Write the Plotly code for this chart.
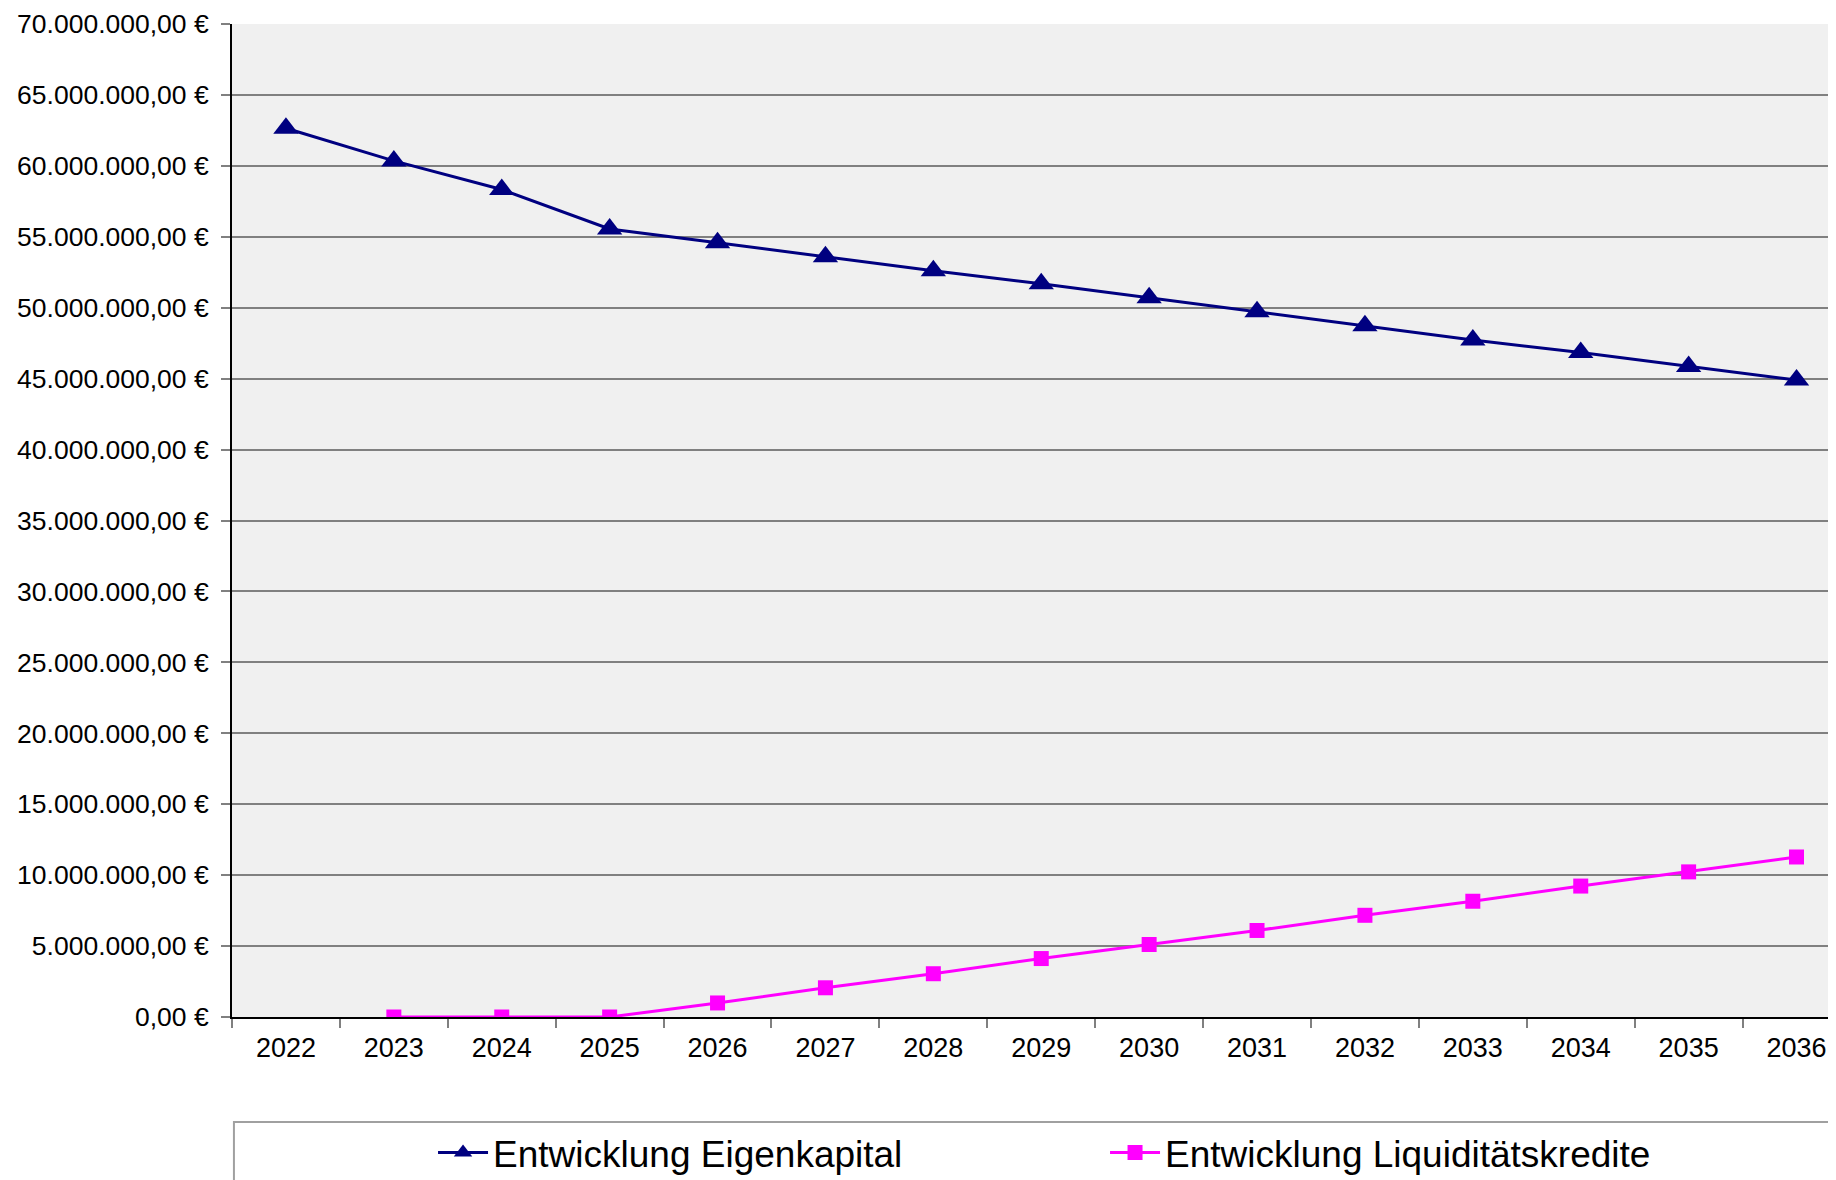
import plotly.graph_objects as go

years = ['2022', '2023', '2024', '2025', '2026', '2027', '2028', '2029',
         '2030', '2031', '2032', '2033', '2034', '2035', '2036']

eigenkapital = [62.65e6, 60.35e6, 58.33e6, 55.55e6, 54.58e6, 53.59e6, 52.60e6, 51.69e6,
                50.70e6, 49.71e6, 48.72e6, 47.73e6, 46.84e6, 45.86e6, 44.90e6]

liquiditaetskredite = [None, 0, 0, 0, 0.99e6, 2.06e6, 3.05e6, 4.12e6,
                       5.11e6, 6.10e6, 7.17e6, 8.16e6, 9.23e6, 10.23e6, 11.28e6]

y_ticks = [0, 5e6, 10e6, 15e6, 20e6, 25e6, 30e6, 35e6, 40e6, 45e6, 50e6, 55e6, 60e6, 65e6, 70e6]
y_labels = ['0,00 €', '5.000.000,00 €', '10.000.000,00 €', '15.000.000,00 €',
            '20.000.000,00 €', '25.000.000,00 €', '30.000.000,00 €', '35.000.000,00 €',
            '40.000.000,00 €', '45.000.000,00 €', '50.000.000,00 €', '55.000.000,00 €',
            '60.000.000,00 €', '65.000.000,00 €', '70.000.000,00 €']

FONT = "Liberation Sans, Arial, sans-serif"

fig = go.Figure()
fig.add_trace(go.Scatter(x=years, y=eigenkapital, mode='lines+markers',
                         name='Entwicklung Eigenkapital',
                         line=dict(color='#000080', width=3),
                         marker=dict(symbol='triangle-up', size=22, color='#000080')))
fig.add_trace(go.Scatter(x=years, y=liquiditaetskredite, mode='lines+markers',
                         name='Entwicklung Liquiditätskredite',
                         line=dict(color='#FF00FF', width=3),
                         marker=dict(symbol='square', size=15, color='#FF00FF')))

# legend frame, cut off at the right and bottom like the original
fig.add_shape(type='rect', xref='paper', yref='paper',
              x0=0.0012, x1=1.05, y0=-0.1057, y1=-0.3,
              line=dict(color='#A0A0A0', width=2), fillcolor='white', layer='below')

fig.update_layout(
    width=1836, height=1180,
    margin=dict(l=224, r=0, t=16, b=171),
    paper_bgcolor='white', plot_bgcolor='#F0F0F0',
    font=dict(family=FONT, size=27, color='black'),
    showlegend=True,
    legend=dict(orientation='h', xref='container', yref='container',
                x=0.2315, y=0.0297, xanchor='left', yanchor='middle',
                font=dict(size=37, family=FONT), bgcolor='rgba(0,0,0,0)',
                entrywidth=607, entrywidthmode='pixels', itemwidth=50),
    xaxis=dict(type='category', range=[-0.5, 14.44], showgrid=False, automargin=False,
               showline=True, linecolor='black', linewidth=2,
               ticks='outside', tickson='boundaries', ticklen=9, tickcolor='#808080',
               tickwidth=2, tickfont=dict(size=27), ticklabelstandoff=6),
    yaxis=dict(range=[0, 70e6], tickvals=y_ticks, ticktext=y_labels, automargin=False,
               showgrid=True, gridcolor='#808080', gridwidth=2,
               showline=True, linecolor='black', linewidth=2,
               ticks='outside', ticklen=9, tickcolor='#808080', tickwidth=2,
               tickfont=dict(size=26.5), ticklabelstandoff=7, zeroline=False),
)

fig.write_html("out.html")
